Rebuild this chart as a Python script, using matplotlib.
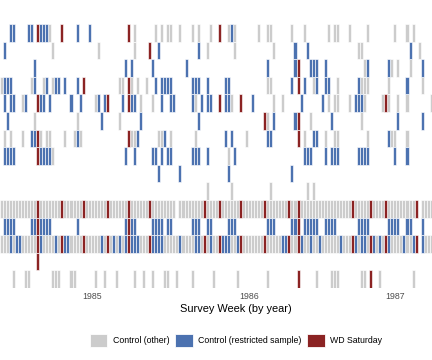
import matplotlib
matplotlib.use("Agg")
import matplotlib.pyplot as plt
from matplotlib.patches import Patch

plt.rcParams['font.family'] = ['Liberation Sans', 'DejaVu Sans']

# ---- data: survey week index (0..142) per row, by status ----
n_rows = 15
year_ticks = [30, 82, 130]
year_labels = ['1985', '1986', '1987']

grey_weeks = {
    1: [16, 44, 51, 53, 55, 56, 59, 63, 65, 69, 75, 77, 85, 88, 89, 96, 100, 108, 110, 111, 115, 121, 130, 134, 136],
    2: [17, 32, 44, 68, 77, 90, 118, 119, 138],
    3: [120, 129, 131, 135],
    4: [0, 10, 14, 17, 39, 40, 43, 45, 48, 88, 89, 103, 111, 119, 120, 121, 128, 139],
    5: [7, 31, 46, 50, 64, 76, 90, 93, 108, 110, 111, 115, 120, 126, 128, 131, 134, 142],
    6: [11, 25, 39, 88, 102, 119],
    7: [1, 3, 7, 13, 15, 16, 21, 24, 26, 43, 44, 52, 53, 56, 64, 81, 100, 107, 110, 111, 121, 129, 130, 134],
    8: [17, 75],
    9: [],
    10: [68, 76, 89, 101, 103],
    11: [0, 1, 2, 3, 4, 5, 6, 7, 8, 9, 10, 11, 13, 14, 15, 16, 17, 18, 19, 21, 22, 23, 24, 25, 26,
         28, 29, 30, 31, 32, 33, 34, 36, 37, 38, 39, 40, 41, 43, 44, 45, 46, 47, 48,
         50, 51, 52, 53, 54, 55, 56, 57, 59, 60, 61, 62, 63, 64, 65, 66, 68, 69, 70, 71,
         73, 74, 75, 76, 77, 78, 80, 81, 82, 83, 84, 85, 86, 88, 89, 90, 91, 92, 93, 94,
         96, 97, 99, 100, 101, 102, 103, 104, 105, 106, 107, 108, 109, 110, 111, 112, 113, 114, 115,
         117, 118, 119, 120, 121, 123, 124, 125, 126, 128, 129, 130, 131, 132, 133, 134, 135, 136,
         139, 140, 141, 142],
    12: [],
    13: [0, 1, 2, 4, 7, 8, 9, 10, 11, 14, 15, 16, 17, 19, 23, 24, 25, 26, 28, 29, 30, 31, 32, 34, 36, 38, 40,
         46, 47, 48, 54, 55, 56, 57, 58, 60, 61, 62, 63, 66, 68, 70, 71, 76, 77, 80, 81, 82, 83, 84, 85, 86,
         88, 89, 90, 91, 92, 96, 97, 100, 101, 103, 104, 106, 107, 108, 109, 110, 111, 113, 114, 115,
         118, 121, 124, 126, 129, 130, 131, 132, 134, 135, 140, 141, 142],
    14: [],
    15: [4, 8, 9, 17, 18, 19, 23, 24, 31, 34, 38, 44, 47, 50, 54, 55, 58, 63, 70, 78, 88, 104, 109, 110, 111, 119, 120, 125, 136],
}

blue_weeks = {
    1: [3, 4, 9, 10, 13, 14, 15, 25, 29, 76],
    2: [1, 52, 65, 97, 101, 135],
    3: [11, 41, 43, 50, 61, 88, 97, 102, 103, 104, 107, 121, 128, 139],
    4: [1, 2, 3, 11, 15, 18, 19, 21, 25, 51, 53, 54, 55, 56, 63, 64, 65, 68, 74, 75, 96, 100, 104, 107, 108, 118, 134],
    5: [1, 3, 4, 8, 13, 14, 16, 23, 26, 32, 34, 40, 43, 44, 53, 56, 57, 63, 66, 68, 69, 74, 75, 83, 99, 106, 117, 118, 119],
    6: [2, 33, 46, 65, 90, 97, 109, 131, 139],
    7: [10, 11, 25, 45, 54, 74, 76, 88, 89, 103, 104, 128],
    8: [1, 2, 3, 4, 13, 14, 15, 16, 41, 44, 50, 51, 53, 55, 56, 63, 64, 65, 68, 77, 100, 101, 102,
        107, 109, 110, 111, 118, 119, 120, 121, 130, 134],
    9: [52, 59, 75, 96],
    10: [],
    11: [],
    12: [1, 2, 3, 4, 10, 11, 13, 14, 15, 16, 25, 41, 43, 44, 50, 51, 52, 53, 55, 56, 63, 64, 65, 68, 69,
         75, 76, 77, 88, 89, 90, 96, 97, 100, 101, 102, 103, 104, 107, 108, 109, 110, 118, 119, 120, 121,
         128, 129, 130, 131, 134, 135, 139],
    13: [3, 5, 6, 13, 18, 21, 22, 33, 37, 39, 41, 43, 44, 45, 50, 51, 52, 53, 59, 64, 65, 69, 73, 74, 75, 78,
         93, 94, 99, 102, 105, 112, 117, 119, 120, 123, 125, 128, 133, 136, 139],
    14: [],
    15: [],
}

red_weeks = {
    1: [12, 20, 42, 72],
    2: [49],
    3: [98],
    4: [27, 42, 98],
    5: [12, 35, 42, 72, 79, 127],
    6: [87, 98],
    7: [12, 42, 98],
    8: [12],
    9: [],
    10: [],
    11: [12, 20, 27, 35, 42, 49, 67, 72, 79, 87, 95, 98, 116, 122, 127, 137],
    12: [12, 42, 98],
    13: [12, 20, 27, 35, 42, 49, 67, 72, 79, 87, 95, 98, 116, 122, 127, 137],
    14: [12],
    15: [98, 122],
}

status_labels = ['Control (other)', 'Control (restricted sample)', 'WD Saturday']
status_colors = ['#CCCCCC', '#4C72B0', '#8B2323']

# ---- figure ----
W, H = 432, 360
fig = plt.figure(figsize=(W / 72, H / 72), dpi=72)
ax = fig.add_axes([0, 1 - 288 / H, 1, 264 / H])

for weeks, color in zip([grey_weeks, blue_weeks, red_weeks], status_colors):
    for row in range(1, n_rows + 1):
        xs = weeks[row]
        if not xs:
            continue
        ax.bar(xs, [1] * len(xs), width=1, bottom=row - 0.5, color=color,
               edgecolor='white', linewidth=0.6, align='center')

ax.set_xlim(-0.456, 142.26)
ax.set_ylim(n_rows + 0.5, 0.5)
ax.set_yticks([])
ax.set_xticks(year_ticks)
ax.set_xticklabels(year_labels)
ax.tick_params(axis='x', length=0, pad=4, labelsize=8.8, labelcolor='#4D4D4D')
for s in ax.spines.values():
    s.set_visible(False)

fig.text(236 / W, 1 - 309.5 / H, 'Survey Week (by year)', ha='center', va='center',
         fontsize=11, color='black')

handles = [Patch(facecolor=c, edgecolor='white', linewidth=0.8) for c in status_colors]
fig.legend(handles, status_labels, loc='center', bbox_to_anchor=(236 / W, 1 - 340.5 / H),
           ncol=3, frameon=False, fontsize=8.8, handlelength=1.95, handleheight=1.95,
           handletextpad=0.6, columnspacing=0.7, borderaxespad=0, borderpad=0)

fig.savefig('out.png', dpi=72)
